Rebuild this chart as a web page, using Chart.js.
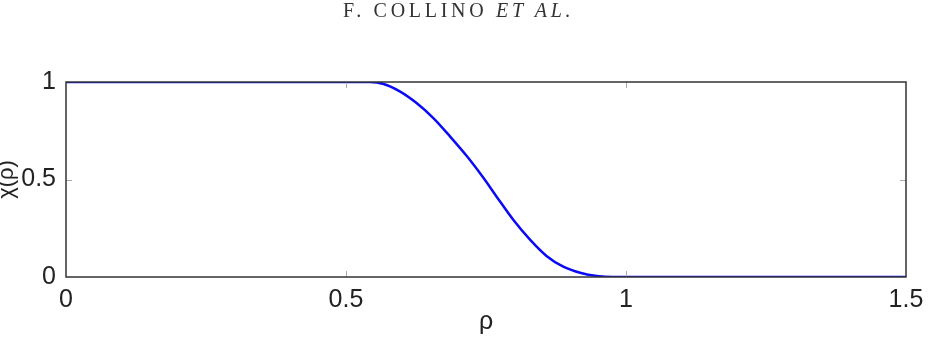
<!DOCTYPE html>
<html>
<head>
<meta charset="utf-8">
<script src="https://cdn.jsdelivr.net/npm/chart.js@4"></script>
<style>
    body { margin: 0; background: #fff; }
    #wrap { position: relative; width: 936px; height: 343px; }
    #header {
        position: absolute; left: 343px; top: -1px;
        font-family: "Liberation Serif", "DejaVu Serif", serif;
        font-size: 20px; letter-spacing: 3.7px; color: #333;
        white-space: nowrap;
    }
</style>
</head>
<body>
<div id="wrap">
    <div id="header">F. COLLINO <i>ET AL.</i></div>
    <canvas id="chiChart" width="936" height="343"></canvas>
</div>
<script>
// valeurs
const rhoValues = [0, 0.5, 0.543, 0.567, 0.596, 0.626, 0.656, 0.686, 0.716, 0.745, 0.769, 0.799, 0.829, 0.858, 0.888, 0.918, 0.948, 0.977, 1.5];
const chiValues = [1, 1, 1, 0.99, 0.952, 0.892, 0.815, 0.72, 0.619, 0.51, 0.412, 0.292, 0.19, 0.108, 0.053, 0.022, 0.005, 0, 0];
const xTicks = [0, 0.5, 1, 1.5];
const yTicks = [0, 0.5, 1];

const points = rhoValues.map((r, i) => ({ x: r, y: chiValues[i] }));

// cadre + petites graduations vers l'intérieur (style matlab)
const boxPlugin = {
    id: 'box',
    afterDatasetsDraw(chart) {
        const ctx = chart.ctx;
        const a = chart.chartArea;
        const xs = chart.scales.x;
        const ys = chart.scales.y;
        ctx.save();
        ctx.strokeStyle = '#aaa';
        ctx.lineWidth = 1;
        xTicks.slice(1, -1).forEach(v => {
            const px = Math.round(xs.getPixelForValue(v)) + 0.5;
            ctx.beginPath();
            ctx.moveTo(px, a.top); ctx.lineTo(px, a.top + 6);
            ctx.moveTo(px, a.bottom); ctx.lineTo(px, a.bottom - 6);
            ctx.stroke();
        });
        yTicks.slice(1, -1).forEach(v => {
            const py = Math.round(ys.getPixelForValue(v)) + 0.5;
            ctx.beginPath();
            ctx.moveTo(a.left, py); ctx.lineTo(a.left + 6, py);
            ctx.moveTo(a.right, py); ctx.lineTo(a.right - 6, py);
            ctx.stroke();
        });
        ctx.strokeStyle = '#333';
        ctx.lineWidth = 1.5;
        ctx.strokeRect(a.left, a.top, a.right - a.left, a.bottom - a.top);
        ctx.restore();
    }
};

const ctx = document.getElementById('chiChart').getContext('2d');
new Chart(ctx, {
    type: 'line',
    data: {
        datasets: [{
            data: points,
            borderColor: '#0a0af5',
            borderWidth: 2.5,
            pointRadius: 0,
            cubicInterpolationMode: 'monotone',
            fill: false
        }]
    },
    options: {
        responsive: false,
        animation: false,
        layout: { padding: { top: 82, right: 30, left: 0, bottom: 0 } },
        plugins: {
            legend: { display: false },
            tooltip: { enabled: false }
        },
        scales: {
            x: {
                type: 'linear',
                min: 0,
                max: 1.5,
                afterFit: s => { s.height = 66; },
                afterBuildTicks: s => { s.ticks = xTicks.map(v => ({ value: v })); },
                grid: { display: false },
                border: { display: false },
                ticks: {
                    padding: 0,
                    color: '#222',
                    font: { family: 'Liberation Sans', size: 25 },
                    callback: v => String(v)
                },
                title: {
                    display: true,
                    text: 'ρ',
                    color: '#222',
                    padding: { top: 0, bottom: 6 },
                    font: { family: 'Liberation Sans', size: 25 }
                }
            },
            y: {
                min: 0,
                max: 1,
                afterFit: s => { s.width = 66; },
                afterBuildTicks: s => { s.ticks = yTicks.map(v => ({ value: v })); },
                grid: { display: false },
                border: { display: false },
                ticks: {
                    padding: 2,
                    color: '#222',
                    font: { family: 'Liberation Sans', size: 25 },
                    callback: v => String(v)
                },
                title: {
                    display: true,
                    text: 'χ(ρ)',
                    color: '#222',
                    padding: { top: -6, bottom: 0 },
                    font: { family: 'Liberation Sans', size: 22 }
                }
            }
        }
    },
    plugins: [boxPlugin]
});
</script>
</body>
</html>
